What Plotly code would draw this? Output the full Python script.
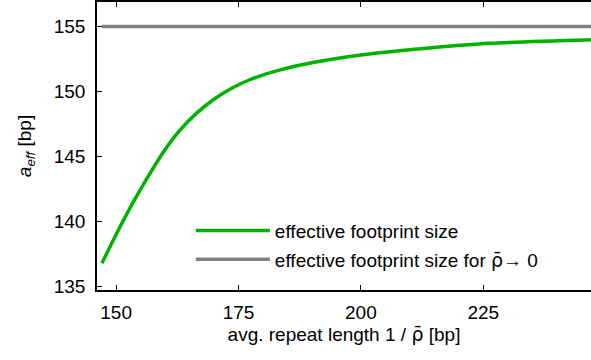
import plotly.graph_objects as go

# avg. repeat length 1/rho [bp] and effective footprint size a_eff [bp]
repeat_length = [147.1, 149.8, 152.5, 155.2, 159.6, 163.0, 166.5, 170.0, 173.9,
                 177.3, 180.7, 184.1, 190.2, 197.0, 203.8, 214.0, 226.3, 247.0]
a_eff = [136.78, 138.85, 140.8, 142.6, 145.3, 147.0, 148.35, 149.4, 150.3,
         150.9, 151.35, 151.72, 152.22, 152.65, 152.98, 153.35, 153.7, 153.97]

# limit for rho -> 0
a_limit_x = [147.1, 247.0]
a_limit = [155.0, 155.0]

x_ticks = [150, 175, 200, 225]
y_ticks = [135, 140, 145, 150, 155]

GREEN = "#00b200"
GRAY = "#808080"
FONT = "Liberation Sans, Arial, Helvetica, sans-serif"
RHO_BAR = '<span style="font-family:DejaVu Sans">ρ̄</span>'

fig = go.Figure()
fig.add_trace(go.Scatter(
    x=repeat_length, y=a_eff, mode="lines",
    line=dict(color=GREEN, width=3.5, shape="spline", smoothing=0.7),
    name="effective footprint size", legendgroup="a",
))
fig.add_trace(go.Scatter(
    x=a_limit_x, y=a_limit, mode="lines",
    line=dict(color=GRAY, width=3.5),
    name=f"effective footprint size for {RHO_BAR}→ 0", legendgroup="b",
))

axis_common = dict(
    showgrid=False, zeroline=False, showline=True, linecolor="black",
    linewidth=1.5, ticks="inside", ticklen=5, tickwidth=1.2, tickcolor="black",
    tickfont=dict(family=FONT, size=19, color="black"),
)

fig.update_layout(
    width=591, height=360,
    margin=dict(l=97, r=0, t=2, b=70),
    plot_bgcolor="white", paper_bgcolor="white",
    font=dict(family=FONT, size=19, color="black"),
    xaxis=dict(
        range=[146.1, 247.0], tickvals=x_ticks, mirror="ticks",
        ticklabelstandoff=4,
        title=dict(text=f"avg. repeat length 1 / {RHO_BAR} [bp]", standoff=6,
                   font=dict(family=FONT, size=19)),
        **axis_common,
    ),
    yaxis=dict(
        range=[134.73, 156.88], tickvals=y_ticks, ticklabelstandoff=6,
        title=dict(text="<i>a</i><sub><i>eff</i></sub> [bp]", standoff=17,
                   font=dict(family=FONT, size=19)),
        **axis_common,
    ),
    showlegend=True,
    legend=dict(
        x=0.19, y=0.272, xanchor="left", yanchor="top",
        bgcolor="rgba(0,0,0,0)", borderwidth=0,
        font=dict(family=FONT, size=19),
        itemwidth=74, traceorder="grouped", tracegroupgap=1,
    ),
)

fig.write_html("out.html")
